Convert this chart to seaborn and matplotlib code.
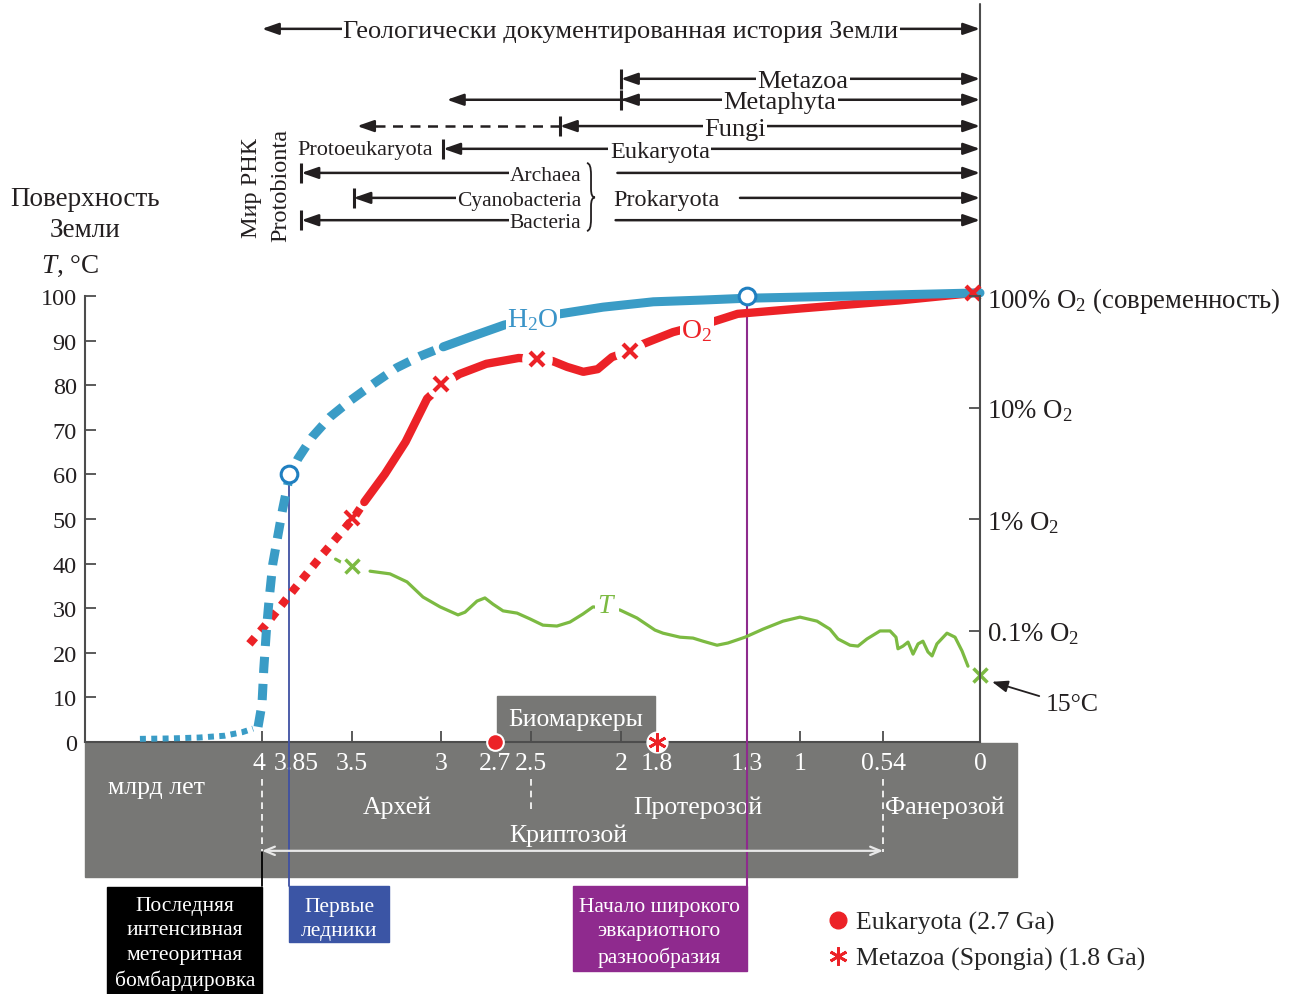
import matplotlib
matplotlib.use("Agg")
import matplotlib.pyplot as plt
from matplotlib.patches import Rectangle, PathPatch
from matplotlib.path import Path
from matplotlib.lines import Line2D
from matplotlib.ticker import NullLocator
from matplotlib.transforms import ScaledTranslation
import seaborn as sns

# ---------------------------------------------------------------
# data (age in Ga, surface T in deg C)
# ---------------------------------------------------------------
H2O_DOT_AGE = [4.68, 4.51, 4.35, 4.21, 4.11, 4.05]
H2O_DOT_T = [0.7, 0.8, 1.0, 1.4, 2.2, 3.0]
H2O_DASH_AGE = [4.022, 4.0, 3.99, 3.975, 3.96, 3.94, 3.915, 3.885, 3.85, 3.80,
                3.72, 3.62, 3.51, 3.38, 3.25, 3.12, 2.99]
H2O_DASH_T = [3.4, 8.5, 16.4, 25.3, 32.1, 39.9, 45.5, 52.2, 59.0, 63.5,
              68.4, 72.9, 76.5, 80.3, 83.9, 86.5, 88.6]
H2O_AGE = [2.99, 2.84, 2.65, 2.34, 2.10, 1.82, 1.54, 1.3, 0.72, 0.0]
H2O_T = [88.6, 90.8, 93.5, 96.0, 97.5, 98.7, 99.1, 99.5, 100.0, 100.7]

O2_DOT_AGE = [4.07, 3.97, 3.82, 3.66, 3.49, 3.43]
O2_DOT_T = [22.0, 26.7, 34.3, 42.2, 50.2, 53.8]
O2_RISE_AGE = [3.43, 3.315, 3.20, 3.08, 2.99]
O2_RISE_T = [53.8, 60.1, 67.3, 77.0, 80.3]
O2_AGE = [2.99, 2.90, 2.75, 2.57, 2.47, 2.38, 2.30, 2.21, 2.13, 2.05,
          1.95, 1.88, 1.71, 1.49, 1.35, 1.0, 0.45, 0.03]
O2_T = [80.3, 82.5, 84.8, 86.1, 85.9, 85.4, 84.1, 83.0, 83.6, 86.3,
        87.7, 89.2, 91.9, 94.2, 96.0, 97.2, 99.0, 100.7]
O2_MARK_AGE = [3.5, 3.0, 2.47, 1.95, 0.04]
O2_MARK_T = [50.2, 80.3, 85.9, 87.7, 100.7]

T_START_AGE = [3.59, 3.55]
T_START_T = [41.0, 40.1]
T_AGE = [3.398, 3.287, 3.192, 3.103, 3.008, 2.908, 2.869, 2.802, 2.758, 2.713,
         2.657, 2.579, 2.507, 2.435, 2.357, 2.284, 2.212, 2.156, 2.006, 1.911,
         1.811, 1.766, 1.671, 1.599, 1.543, 1.465, 1.404, 1.309, 1.209, 1.097,
         1.003, 0.908, 0.836, 0.791, 0.724, 0.680, 0.630, 0.557, 0.501, 0.468,
         0.457, 0.429, 0.401, 0.373, 0.345, 0.318, 0.290, 0.267, 0.240, 0.184,
         0.139, 0.100, 0.067]
T_VAL = [38.3, 37.7, 35.9, 32.5, 30.3, 28.5, 29.1, 31.6, 32.3, 30.9,
         29.4, 28.9, 27.6, 26.2, 26.0, 26.9, 28.7, 30.3, 29.6, 27.8,
         25.1, 24.4, 23.5, 23.3, 22.6, 21.7, 22.2, 23.5, 25.3, 27.1,
         28.0, 27.1, 25.3, 23.1, 21.7, 21.5, 23.1, 24.9, 24.9, 23.5,
         20.9, 21.5, 22.4, 19.7, 22.0, 22.6, 20.2, 19.3, 22.0, 24.4,
         23.5, 20.4, 17.0]
T_MARK_AGE = [3.5, 0.0]
T_MARK_T = [39.5, 15.0]

CIRCLE_AGE = [3.85, 1.3]
CIRCLE_T = [60, 100]

AGE_TICKS = [4, 3.85, 3.5, 3, 2.7, 2.5, 2, 1.8, 1.3, 1, 0.54, 0]
AGE_LABELS = ["4", "3.85", "3.5", "3", "2.7", "2.5", "2", "1.8", "1.3", "1", "0.54", "0"]
AGE_MINOR = [4, 3.5, 3, 2.5, 2, 1, 0.54]
EON_BOUNDS = [4.0, 2.5, 0.54]
O2_TICKS = [0.1, 1, 10, 100]
O2_LABELS = ["0.1% O$_2$", "1% O$_2$", "10% O$_2$", "100% O$_2$ (современность)"]

BIOMARKER_AGE = [2.7, 1.8]

# colours
BLUE = "#3a9cc6"
RED = "#ec2227"
GREEN = "#7cba42"
DARK = "#231f20"
AXC = "#4d4d4d"
GRAY = "#777775"

sns.set_theme(style="ticks")
plt.rcParams["font.family"] = ["Liberation Serif", "DejaVu Serif"]
plt.rcParams["mathtext.fontset"] = "custom"
plt.rcParams["mathtext.rm"] = "Liberation Serif"
plt.rcParams["mathtext.it"] = "Liberation Serif:italic"

fig = plt.figure(figsize=(12.97, 9.95), dpi=100)
ax = fig.add_axes([85 / 1297, 252 / 995, 895 / 1297, 446 / 995])
ax.set_axisbelow(False)
ax.set_xlim(4.986, 0)
ax.set_ylim(0, 100)


def curve(x, y, color, lw, ls="-", z=3, cap="round"):
    sns.lineplot(x=x, y=y, ax=ax, color=color, linewidth=lw, linestyle=ls,
                 sort=False, zorder=z, clip_on=False, solid_capstyle=cap,
                 dash_capstyle="butt", solid_joinstyle="round")


# temperature curve
curve(T_START_AGE, T_START_T, GREEN, 2.3)
curve(T_AGE, T_VAL, GREEN, 2.3)
# oxygen curve
curve(O2_DOT_AGE, O2_DOT_T, RED, 6.0, ls=(0, (1.0, 1.0)), cap="butt")
curve(O2_RISE_AGE, O2_RISE_T, RED, 6.0)
curve(O2_AGE, O2_T, RED, 6.0)
# white gaps around the crosses
ax.plot(O2_MARK_AGE[1:4], O2_MARK_T[1:4], "o", ms=21, color="white", zorder=3.5)
ax.plot(T_MARK_AGE, T_MARK_T, "o", ms=17, color="white", zorder=3.5, clip_on=False)
ax.plot(O2_MARK_AGE[:4], O2_MARK_T[:4], "x", ms=10, mew=3, color=RED, zorder=4)
ax.plot(T_MARK_AGE, T_MARK_T, "x", ms=10, mew=2.5, color=GREEN, zorder=4, clip_on=False)
# water curve
curve(H2O_DOT_AGE, H2O_DOT_T, BLUE, 4.3, ls=(0, (1.0, 0.9)), cap="butt", z=4.2)
curve(H2O_DASH_AGE, H2O_DASH_T, BLUE, 6.5, ls=(0, (1.8, 1.2)), cap="butt", z=4.2)
curve(H2O_AGE, H2O_T, BLUE, 6.5, z=4.2)
ax.plot(O2_MARK_AGE[4:], O2_MARK_T[4:], "x", ms=10, mew=3, color=RED, zorder=4.5,
        clip_on=False)

# curve labels
ax.text(2.49, 94.8, "H$_2$O", color="#3a94c8", fontsize=20, ha="center", va="center",
        zorder=4.6, bbox=dict(fc="white", ec="none", pad=1))
ax.text(1.577, 92.4, "O$_2$", color=RED, fontsize=20, ha="center", va="center",
        zorder=4.6, bbox=dict(fc="white", ec="none", pad=1))
ax.text(2.078, 30.5, "$T$", color=GREEN, fontsize=20, ha="center", va="center",
        zorder=4.6, bbox=dict(fc="white", ec="none", pad=2))

# event lines and circles
ax.plot([3.85, 3.85], [60, -32.3], color="#3f51a3", lw=1.3, zorder=2.8, clip_on=False)
ax.plot([1.3, 1.3], [100, -32.3], color="#8e2b8d", lw=1.5, zorder=2.8, clip_on=False)
ax.plot([4.0, 4.0], [-24.7, -32.3], color="black", lw=1.3, zorder=2.8, clip_on=False)
ax.plot(CIRCLE_AGE, CIRCLE_T, "o", ms=12, mfc="white", mec="#1f7fc0", mew=2.2,
        zorder=6, clip_on=False)

# axes styling
for s in ["top", "right"]:
    ax.spines[s].set_visible(False)
for s in ["left", "bottom"]:
    ax.spines[s].set_color(AXC)
    ax.spines[s].set_linewidth(1.5)
ax.set_yticks(range(0, 101, 10))
ax.tick_params(axis="y", direction="in", length=8, width=1.3, color=AXC,
               labelsize=17.5, pad=6, labelcolor=DARK)
ax.set_xticks(AGE_TICKS)
ax.set_xticklabels(AGE_LABELS)
ax.xaxis.remove_overlapping_locs = False
ax.set_xticks(AGE_MINOR, minor=True)
ax.tick_params(axis="x", which="major", length=0, pad=7, labelsize=18.5,
               labelcolor="white")
ax.tick_params(axis="x", which="minor", direction="in", length=8, width=1.3, color=AXC)
# nudge the crowded labels apart like in the reference
shifts = {"4": -3, "3.85": 7}
for lab in ax.get_xticklabels():
    dx = shifts.get(lab.get_text(), 0)
    if dx:
        lab.set_transform(lab.get_transform() + ScaledTranslation(dx / 100, 0, fig.dpi_scale_trans))
ax.set_xlabel("")
ax.set_ylabel("")

# right oxygen axis
ax2 = ax.twinx()
ax2.set_yscale("log")
ax2.set_ylim(0.01, 100)
ax2.set_yticks(O2_TICKS)
ax2.set_yticklabels(O2_LABELS)
ax2.yaxis.set_minor_locator(NullLocator())
ax2.tick_params(axis="y", direction="in", length=8, width=1.3, color=AXC,
                labelsize=19.3, pad=5, labelcolor=DARK)
for s in ["top", "left", "bottom"]:
    ax2.spines[s].set_visible(False)
ax2.spines["right"].set_color(AXC)
ax2.spines["right"].set_linewidth(1.5)
ax.axvline(0, ymin=1, ymax=1.655, color=AXC, lw=1.5, clip_on=False)

# gray time scale band
ax.add_patch(Rectangle((-0.206, -30.3), 5.192, 30.0, color=GRAY, zorder=1, clip_on=False))
ax.add_patch(Rectangle((1.811, -0.3), 0.88, 10.6, color=GRAY, zorder=1, clip_on=False))
ax.text(2.25, 5.2, "Биомаркеры", color="white", fontsize=18.5, ha="center", va="center")
for b in EON_BOUNDS:
    low = -16.1 if b == 2.5 else -24.7
    ax.plot([b, b], [-8.3, low], color="white", lw=1.2, ls=(0, (4, 3)), zorder=2,
            clip_on=False)
ax.annotate("", xy=(0.54, -24.4), xytext=(4.0, -24.4), annotation_clip=False,
            arrowprops=dict(arrowstyle="<->,head_length=0.6,head_width=0.25",
                            color="#e8e8e8", lw=1.6, shrinkA=0, shrinkB=0))
for x, y, s in [(4.587, -10.1, "млрд лет"), (3.248, -14.6, "Архей"),
                (1.571, -14.6, "Протерозой"), (0.195, -14.6, "Фанерозой"),
                (2.295, -20.9, "Криптозой")]:
    ax.text(x, y, s, color="white", fontsize=18.5, ha="center", va="center", zorder=2)

# biomarker marks
ax.plot(BIOMARKER_AGE[:1], [0], "o", ms=12, color=RED, mec="white", mew=1.5,
        zorder=6, clip_on=False)
ax.plot(BIOMARKER_AGE[1:], [0], "o", ms=15, color="white", zorder=5.5, clip_on=False)
ax.plot(BIOMARKER_AGE[1:], [0], marker=(6, 2, 0), ms=13, mew=2, color=RED,
        zorder=6, clip_on=False)

# coloured boxes below
boxes = [((4.0, -56.5), 0.864, 24.0, "black", (4.43, -45.1),
          "Последняя\nинтенсивная\nметеоритная\nбомбардировка"),
         ((3.29, -44.8), 0.56, 12.5, "#3b55a5", (3.57, -39.5), "Первые\nледники"),
         ((1.3, -51.3), 0.967, 19.0, "#8f2a8e", (1.788, -42.6),
          "Начало широкого\nэвкариотного\nразнообразия")]
for xy, w, h, c, tp, s in boxes:
    ax.add_patch(Rectangle(xy, w, h, color=c, zorder=2, clip_on=False))
    ax.text(tp[0], tp[1], s, color="white", fontsize=15.5, ha="center", va="center",
            linespacing=1.38, zorder=3)

# 15 C note
ax.annotate("", xy=(-0.067, 13.5), xytext=(-0.33, 10.3), annotation_clip=False,
            arrowprops=dict(arrowstyle="-|>,head_length=0.8,head_width=0.3",
                            color=DARK, lw=1.3, shrinkA=0, shrinkB=0))
ax.text(-0.512, 8.5, "15°C", fontsize=18.5, color=DARK, ha="center", va="center")

# legend
handles = [Line2D([], [], marker="o", ls="none", color=RED, ms=12),
           Line2D([], [], marker=(6, 2, 0), ls="none", color=RED, ms=13, mew=2)]
ax.legend(handles, ["Eukaryota (2.7 Ga)", "Metazoa (Spongia) (1.8 Ga)"],
          loc="upper left", bbox_to_anchor=(0.83, -0.378), frameon=False,
          fontsize=18.5, handlelength=0.8, handletextpad=0.3, borderpad=0,
          borderaxespad=0, labelspacing=0.5)


# ---------------------------------------------------------------
# ranges of life groups on top
# ---------------------------------------------------------------
def arrow(x0, x1, y, style="<|-|>", ls="-"):
    ax.annotate("", xy=(x1, y), xytext=(x0, y), annotation_clip=False,
                arrowprops=dict(arrowstyle=style + ",head_length=1.0,head_width=0.35",
                                color=DARK, lw=1.8, ls=ls, shrinkA=0, shrinkB=0,
                                mutation_scale=10), zorder=4)


def bar(x, y):
    ax.plot([x], [y], marker="|", ms=15, mew=2.2, color=DARK, clip_on=False, zorder=4)


def label(x, y, s, size=19, ha="center"):
    ax.text(x, y, s, fontsize=size, ha=ha, va="center_baseline", color=DARK, zorder=5,
            bbox=dict(fc="white", ec="none", pad=1.0))


arrow(4.0, 0.0, 159.9)
label(2.0, 159.9, "Геологически документированная история Земли", size=19)

arrow(2.0, 0.0, 148.7)
bar(2.0, 148.7)
label(0.986, 148.7, "Metazoa")

arrow(2.97, 0.0, 144.0)
arrow(1.93, 2.0, 144.0, style="-|>")
bar(2.0, 144.0)
label(1.114, 144.0, "Metaphyta")

ax.plot([2.34, 3.42], [138.1, 138.1], color=DARK, lw=1.8, ls=(0, (4, 3)),
        clip_on=False, zorder=4)
arrow(3.40, 3.47, 138.1, style="-|>")
arrow(2.34, 0.0, 138.1)
bar(2.34, 138.1)
label(1.365, 138.1, "Fungi")

arrow(2.99, 0.0, 133.0)
bar(2.99, 133.0)
label(1.783, 133.0, "Eukaryota", size=17.5)
label(3.05, 133.3, "Protoeukaryota", size=16, ha="right")

for start, y, name in [(3.78, 127.6, "Archaea"), (3.49, 122.0, "Cyanobacteria"),
                       (3.78, 117.0, "Bacteria")]:
    arrow(start, 2.25, y, style="<|-")
    bar(start, y)
    label(2.22, y, name, size=15.5, ha="right")
arrow(2.02, 0.0, 127.6, style="-|>")
arrow(2.03, 0.0, 117.0, style="-|>")
arrow(1.337, 0.0, 122.0, style="-|>")
ax.text(1.744, 122.2, "Prokaryota", fontsize=17.5, ha="center", va="center_baseline",
        color=DARK)

# brace joining the three prokaryote rows
bx, tip, top, mid, bot = 2.19, 2.145, 129.8, 122.1, 114.6
bm = 2.167
brace = Path([(bx, top), (bm, top), (bm, top - 2.6), (bm, mid + 1.9),
              (bm, mid), (tip, mid), (bm, mid), (bm, mid - 1.9),
              (bm, bot + 2.6), (bm, bot), (bx, bot)],
             [Path.MOVETO, Path.CURVE3, Path.CURVE3, Path.LINETO,
              Path.CURVE3, Path.CURVE3, Path.CURVE3, Path.CURVE3,
              Path.LINETO, Path.CURVE3, Path.CURVE3])
ax.add_patch(PathPatch(brace, fc="none", ec=DARK, lw=1.3, clip_on=False, zorder=4))

ax.text(4.056, 124.4, "Мир РНК", fontsize=17.5, rotation=90, ha="center",
        va="center", color=DARK)
ax.text(3.894, 125.1, "Protobionta", fontsize=17.5, rotation=90, ha="center",
        va="center", color=DARK)

# left axis title
fig.text(85 / 1297, 0.784, "Поверхность\nЗемли", fontsize=19.5, ha="center",
         va="center", color=DARK, linespacing=1.3)
fig.text(70 / 1297, 0.732, "$T$, °C", fontsize=19.5, ha="center", va="center", color=DARK)

fig.savefig("out.png", dpi=100)
